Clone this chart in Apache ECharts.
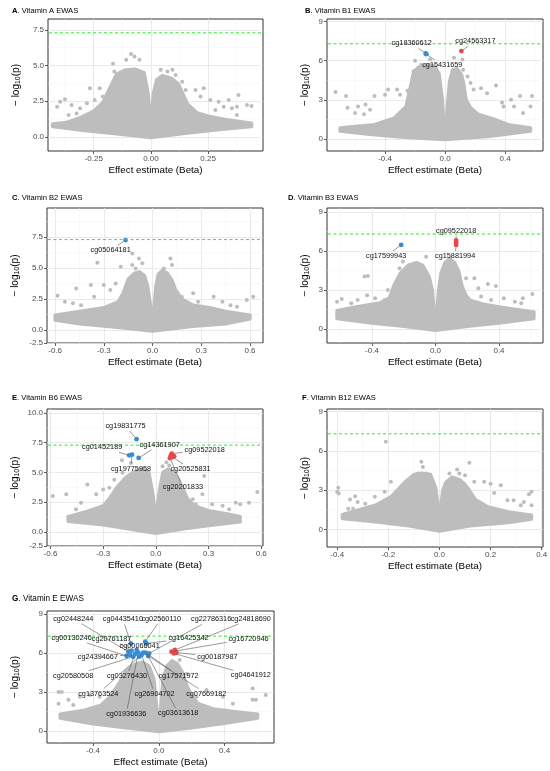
<!DOCTYPE html>
<html>
<head>
<meta charset="utf-8">
<script src="https://cdn.jsdelivr.net/npm/echarts@6.0.0/dist/echarts.min.js"></script>
<style>
  html, body { margin: 0; padding: 0; background: #fff; }
  #main { width: 550px; height: 771px; }
</style>
</head>
<body>
<div id="main"></div>
<script>
// genome-wide threshold, -log10(5e-8)
var THRESH = 7.3;

// ---------- A. Vitamin A ----------
// outline of the dense cloud of CpGs
var aCloud = [[-0.43,0.72],[-0.3,0.45],[-0.15,0.2],[0,-0.05],[0.15,0.25],[0.3,0.5],[0.44,0.72],[0.44,0.95],[0.33,1.2],[0.25,1.45],[0.2,1.7],[0.16,2.3],[0.14,3.0],[0.12,3.7],[0.09,4.1],[0.05,4.3],[0.025,4.0],[0.01,3.0],[0.004,1.4],[0,1.2],[-0.004,1.4],[-0.012,3.0],[-0.03,4.5],[-0.07,4.75],[-0.11,4.7],[-0.15,4.4],[-0.18,3.4],[-0.21,2.4],[-0.25,1.8],[-0.3,1.4],[-0.37,1.0],[-0.43,0.9]];
var aGrey = [[-0.087,5.82],[-0.072,5.63],[-0.108,5.4],[-0.166,5.12],[-0.05,5.4],[-0.16,4.58],[-0.152,4.0],[-0.166,3.29],[-0.224,3.4],[-0.267,3.4],[-0.21,2.82],[-0.41,2.1],[-0.397,2.46],[-0.376,2.63],[-0.347,2.23],[-0.36,1.53],[-0.325,1.64],[-0.28,2.35],[-0.246,2.58],[-0.31,2.0],
  [0.043,4.7],[0.072,4.58],[0.094,4.7],[0.108,4.34],[0.137,3.87],[0.152,3.29],[0.195,3.29],[0.231,3.4],[0.217,2.82],[0.26,2.58],[0.296,2.46],[0.34,2.58],[0.383,2.93],[0.42,2.23],[0.376,2.1],[0.44,2.16],[0.282,1.88],[0.318,2.1],[0.376,1.53],[0.354,2.0]];
var aDown = [];
var aUp = [];
var aXTicks = [-0.25, 0, 0.25], aXLabels = ['-0.25', '0.00', '0.25'];
var aYTicks = [0, 2.5, 5, 7.5], aYLabels = ['0.0', '2.5', '5.0', '7.5'];

// ---------- B. Vitamin B1 ----------
var bCloud = [[-0.7,0.6],[-0.5,0.35],[-0.3,0.15],[0,-0.05],[0.3,0.2],[0.57,0.6],[0.57,0.85],[0.42,1.1],[0.33,1.5],[0.22,1.9],[0.17,2.4],[0.14,3.0],[0.125,4.2],[0.11,4.9],[0.08,5.4],[0.05,5.3],[0.03,4.4],[0.015,2.5],[0.008,1.0],[0,0.8],[-0.007,1.0],[-0.018,3.0],[-0.04,5.0],[-0.07,5.6],[-0.12,5.7],[-0.18,5.5],[-0.21,5.1],[-0.23,4.05],[-0.26,2.5],[-0.34,1.6],[-0.47,1.1],[-0.7,0.85]];
var bGrey = [[-0.73,3.6],[-0.66,3.3],[-0.65,2.4],[-0.6,2.0],[-0.58,2.5],[-0.54,1.9],[-0.53,2.65],[-0.47,3.3],[-0.5,2.25],[-0.38,3.8],[-0.4,3.4],[-0.32,3.8],[-0.3,3.4],[-0.25,3.7],[-0.21,5.2],[-0.2,6.0],[-0.16,5.7],[-0.1,6.1],
  [0.06,6.23],[0.116,6.1],[0.12,5.3],[0.15,4.8],[0.17,4.3],[0.24,3.9],[0.34,4.1],[0.28,3.5],[0.38,2.8],[0.39,2.5],[0.46,2.5],[0.5,3.3],[0.52,2.0],[0.58,3.3],[0.57,2.5],[0.44,3.0],[0.19,3.8]];
var bDown = [[-0.125,6.5,'cg15431659'],[-0.129,6.56,'cg18360612']];
var bUp = [[0.109,6.74,'cg24563317']];
var bXTicks = [-0.4, 0, 0.4], bXLabels = ['-0.4', '0.0', '0.4'];
var bYTicks = [0, 3, 6, 9], bYLabels = ['0', '3', '6', '9'];

// ---------- C. Vitamin B2 ----------
var cCloud = [[-0.6,0.8],[-0.45,0.5],[-0.25,0.25],[0,-0.08],[0.25,0.3],[0.45,0.5],[0.6,0.9],[0.6,1.2],[0.45,1.5],[0.35,1.8],[0.25,2.0],[0.18,2.5],[0.14,3.3],[0.12,4.0],[0.09,4.6],[0.06,4.8],[0.035,4.5],[0.02,3.5],[0.008,1.6],[0,1.2],[-0.008,1.6],[-0.03,3.5],[-0.05,4.4],[-0.08,4.7],[-0.11,4.6],[-0.15,4.1],[-0.18,3.0],[-0.21,2.3],[-0.3,1.8],[-0.45,1.5],[-0.6,1.2]];
var cGrey = [[-0.34,5.43],[-0.125,6.18],[-0.196,5.1],[-0.125,5.24],[-0.084,5.78],[-0.063,5.38],[-0.104,4.97],[0.11,5.78],[0.12,5.24],[0.07,4.97],[-0.47,3.36],[-0.38,3.63],[-0.3,3.63],[-0.26,3.23],[-0.585,2.77],[-0.54,2.28],[-0.49,2.15],[-0.44,2.0],[-0.36,2.69],[-0.227,3.76],
  [0.18,2.69],[0.25,2.96],[0.28,2.28],[0.376,2.69],[0.43,2.28],[0.48,2.0],[0.58,2.42],[0.62,2.69],[0.52,1.88]];
var cDown = [[-0.166,7.26,'cg05064181']];
var cUp = [];
var cXTicks = [-0.6, -0.3, 0, 0.3, 0.6], cXLabels = ['-0.6', '-0.3', '0.0', '0.3', '0.6'];
var cYTicks = [-1.05, 0, 2.5, 5, 7.5], cYLabels = ['-2.5', '0.0', '2.5', '5.0', '7.5'];

// ---------- D. Vitamin B3 ----------
var dCloud = [[-0.62,0.8],[-0.4,0.45],[-0.2,0.2],[0,-0.1],[0.2,0.2],[0.4,0.45],[0.62,0.8],[0.62,1.3],[0.45,1.6],[0.3,1.9],[0.22,2.2],[0.19,2.6],[0.165,3.4],[0.145,4.5],[0.12,5.1],[0.09,5.4],[0.06,5.1],[0.035,4.3],[0.02,3.0],[0.01,1.5],[0,1.2],[-0.01,1.5],[-0.02,3.0],[-0.04,4.0],[-0.08,4.9],[-0.12,5.1],[-0.17,4.9],[-0.22,4.3],[-0.26,3.4],[-0.29,2.4],[-0.35,2.0],[-0.5,1.7],[-0.62,1.4]];
var dGrey = [[-0.447,4.03],[-0.426,4.08],[-0.226,4.67],[-0.059,5.56],[-0.205,5.18],[0.193,3.9],[0.33,3.46],[0.38,3.3],[0.27,3.13],[-0.59,2.3],[-0.62,2.1],[-0.53,1.97],[-0.49,2.23],[-0.43,2.6],[-0.38,2.36],[-0.32,2.23],[-0.3,3.0],
  [0.287,2.49],[0.35,2.23],[0.43,2.36],[0.5,2.1],[0.55,2.36],[0.61,2.69],[0.54,1.97],[0.245,3.9]];
var dDown = [[-0.216,6.46,'cg17599943']];
var dUp = [[0.13,6.62,''],[0.13,6.8,'cg09522018'],[0.13,6.46,'cg15881994']];
var dXTicks = [-0.4, 0, 0.4], dXLabels = ['-0.4', '0.0', '0.4'];
var dYTicks = [0, 3, 6, 9], dYLabels = ['0', '3', '6', '9'];

// ---------- E. Vitamin B6 ----------
var eCloud = [[-0.5,0.9],[-0.3,0.6],[-0.15,0.25],[0,-0.1],[0.15,0.25],[0.3,0.55],[0.48,0.85],[0.48,1.3],[0.4,1.55],[0.3,1.8],[0.22,2.2],[0.18,2.8],[0.155,3.6],[0.13,4.4],[0.1,5.0],[0.07,5.3],[0.04,5.0],[0.02,3.5],[0.005,1.7],[0,1.5],[-0.005,1.7],[-0.015,3.0],[-0.04,5.0],[-0.08,5.3],[-0.12,5.1],[-0.17,4.6],[-0.22,3.8],[-0.26,2.9],[-0.3,2.2],[-0.4,1.7],[-0.5,1.3]];
var eGrey = [[-0.587,3.03],[-0.51,3.17],[-0.39,4.0],[-0.34,3.17],[-0.3,3.58],[-0.265,3.72],[-0.455,1.92],[-0.426,2.47],[-0.4,1.64],[-0.19,4.97],[-0.237,4.4],[0.275,4.7],[0.265,3.17],[0.32,2.33],[0.38,2.2],[0.417,1.92],[0.455,2.47],[0.48,2.33],[0.53,2.47],[0.578,3.36],[0.21,2.75],[0.227,2.33],
  [-0.193,6.03],[-0.142,5.8],[0.06,5.86],[0.076,5.58],[0.038,5.53]];
var eDown = [[-0.11,7.8,'cg19831775'],[-0.152,6.44,'cg01452189'],[-0.136,6.5,'cg19775958'],[-0.098,6.22,'cg14361907']];
var eUp = [[0.09,6.58,'cg09522018'],[0.085,6.42,''],[0.104,6.36,''],[0.095,6.3,'cg20525831'],[0.08,6.2,'cg20201833']];
var eXTicks = [-0.6, -0.3, 0, 0.3, 0.6], eXLabels = ['-0.6', '-0.3', '0.0', '0.3', '0.6'];
var eYTicks = [-1.17, 0, 2.5, 5, 7.5, 10], eYLabels = ['-2.5', '0.0', '2.5', '5.0', '7.5', '10.0'];

// ---------- F. Vitamin B12 ----------
var fCloud = [[-0.38,0.85],[-0.25,0.6],[-0.12,0.3],[0,-0.1],[0.12,0.3],[0.27,0.55],[0.36,0.8],[0.36,1.1],[0.27,1.35],[0.19,1.73],[0.14,2.3],[0.11,3.2],[0.08,3.8],[0.05,4.0],[0.025,3.6],[0.013,3.0],[0.004,1.6],[0,1.45],[-0.004,1.6],[-0.015,3.2],[-0.035,4.2],[-0.07,4.3],[-0.1,4.2],[-0.136,3.6],[-0.19,2.5],[-0.25,1.86],[-0.32,1.48],[-0.38,1.15]];
var fGrey = [[-0.21,6.69],[-0.4,2.88],[-0.396,3.2],[-0.394,2.75],[-0.35,2.29],[-0.33,2.54],[-0.32,2.11],[-0.357,1.6],[-0.338,1.6],[-0.29,1.98],[-0.253,2.5],[-0.214,2.88],[-0.19,3.64],[-0.208,2.11],[-0.071,5.17],[-0.065,4.78],[-0.084,4.27],[-0.052,4.27],
  [0.039,4.27],[0.069,4.58],[0.078,4.27],[0.1,4.15],[0.117,5.09],[0.136,3.64],[0.175,3.64],[0.2,3.5],[0.214,2.8],[0.24,3.38],[0.266,2.24],[0.29,2.24],[0.33,2.11],[0.35,2.7],[0.36,2.88],[0.36,1.86],[0.29,0.84],[0.318,1.86],[0.097,3.5],[0.104,2.75]];
var fDown = [];
var fUp = [];
var fXTicks = [-0.4, -0.2, 0, 0.2, 0.4], fXLabels = ['-0.4', '-0.2', '0.0', '0.2', '0.4'];
var fYTicks = [0, 3, 6, 9], fYLabels = ['0', '3', '6', '9'];

// ---------- G. Vitamin E ----------
var gCloud = [[-0.6,1.0],[-0.4,0.55],[-0.2,0.25],[0,-0.05],[0.2,0.25],[0.4,0.6],[0.6,1.0],[0.6,1.3],[0.45,1.5],[0.33,1.7],[0.24,2.1],[0.2,2.7],[0.17,3.5],[0.14,4.6],[0.11,5.2],[0.08,5.4],[0.05,5.0],[0.025,4.0],[0.01,1.5],[0,1.2],[-0.01,1.5],[-0.03,4.0],[-0.06,5.0],[-0.1,5.3],[-0.15,5.1],[-0.2,4.6],[-0.25,3.5],[-0.3,2.6],[-0.35,2.0],[-0.45,1.6],[-0.6,1.3]];
var gGrey = [[-0.61,3.0],[-0.59,3.0],[-0.61,2.1],[-0.55,2.4],[-0.48,2.64],[-0.52,2.0],[-0.42,2.77],[-0.36,2.64],[0.57,3.28],[0.57,2.4],[0.59,2.4],[0.65,2.77],[0.45,2.1],[0.39,2.64],[0.29,3.15],[0.23,2.64],[0.127,5.46],[0.17,4.4]];
var gDown = [[-0.17,6.74,'cg04435410'],[-0.083,6.87,'cg02560110'],[-0.075,6.74,'cg16425342'],[-0.186,6.1,'cg02448244'],[-0.166,6.18,'cg20761187'],[-0.145,5.92,'cg03276430'],[-0.125,6.03,'cg01936636'],[-0.105,5.85,'cg26904702'],[-0.081,6.03,'cg17571972'],[-0.176,5.85,'cg24394667'],[-0.156,5.72,'cg20580508'],[-0.065,5.77,'cg03613618'],[-0.119,5.72,'cg13763524'],[-0.095,6.03,'cg07669182'],[-0.135,6.23,'cg00066041'],[-0.059,5.97,'cg22786316'],[-0.196,5.77,'cg00130246']];
var gUp = [[0.077,6.1,'cg16720946'],[0.097,6.23,'cg24818690'],[0.107,6.03,'cg00187987'],[0.091,5.97,'cg04641912']];
var gXTicks = [-0.4, 0, 0.4], gXLabels = ['-0.4', '0.0', '0.4'];
var gYTicks = [0, 3, 6, 9], gYLabels = ['0', '3', '6', '9'];

// label placement (pixel offset from the point, like ggrepel put them)
var labelOffset = {
  'B:cg18360612': [-14, -10], 'B:cg15431659': [16, 11], 'B:cg24563317': [14, -10],
  'C:cg05064181': [-15, 10],
  'D:cg17599943': [-15, 11], 'D:cg09522018': [0, -10], 'D:cg15881994': [-1, 11],
  'E:cg19831775': [-11, -13], 'E:cg01452189': [-27, -8], 'E:cg14361907': [21, -13], 'E:cg19775958': [-1, 14],
  'E:cg09522018': [33, -4], 'E:cg20525831': [18, 12], 'E:cg20201833': [13, 29],
  'G:cg02448244': [-55, -33], 'G:cg04435410': [-8, -24], 'G:cg02560110': [16, -23], 'G:cg22786316': [62, -34],
  'G:cg24818690': [76, -31], 'G:cg00130246': [-55, -18], 'G:cg20761187': [-20, -12], 'G:cg16425342': [42, -5],
  'G:cg16720946': [77, -13], 'G:cg00066041': [3, -4], 'G:cg24394667': [-32, 2], 'G:cg00187987': [41, 4],
  'G:cg20580508': [-60, 19], 'G:cg03276430': [-8, 22], 'G:cg17571972': [33, 23], 'G:cg04641912': [77, 22],
  'G:cg13763524': [-41, 37], 'G:cg26904702': [13, 39], 'G:cg07669182': [63, 41], 'G:cg01936636': [-12, 61],
  'G:cg03613618': [30, 57]
};

var FONT = '"Liberation Sans", Arial, Helvetica, sans-serif';
var GREY = '#bdbdbd', BLUE = '#3a8ccf', RED = '#e8484a', GREEN = '#22f022';

var panels = [
  { key: 'A', name: 'Vitamin A EWAS', grid: [48, 19, 215, 132], title: [7, 2], x: [-0.45, 0.49], y: [-1.0, 8.27],
    cloud: aCloud, grey: aGrey, down: aDown, up: aUp, xt: aXTicks, xl: aXLabels, yt: aYTicks, yl: aYLabels, gap: 26 },
  { key: 'B', name: 'Vitamin B1 EWAS', grid: [327, 19, 216, 132], title: [300, 2], x: [-0.787, 0.653], y: [-0.92, 9.2],
    cloud: bCloud, grey: bGrey, down: bDown, up: bUp, xt: bXTicks, xl: bXLabels, yt: bYTicks, yl: bYLabels, gap: 16 },
  { key: 'C', name: 'Vitamin B2 EWAS', grid: [47, 208, 216, 135], title: [7, 189], x: [-0.65, 0.68], y: [-1.05, 9.85],
    cloud: cCloud, grey: cGrey, down: cDown, up: cUp, xt: cXTicks, xl: cXLabels, yt: cYTicks, yl: cYLabels, gap: 26 },
  { key: 'D', name: 'Vitamin B3 EWAS', grid: [327, 208, 216, 135], title: [283, 189], x: [-0.683, 0.677], y: [-1.08, 9.3],
    cloud: dCloud, grey: dGrey, down: dDown, up: dUp, xt: dXTicks, xl: dXLabels, yt: dYTicks, yl: dYLabels, gap: 16 },
  { key: 'E', name: 'Vitamin B6 EWAS', grid: [47, 409, 216, 137], title: [7, 389], x: [-0.62, 0.61], y: [-1.17, 10.33],
    cloud: eCloud, grey: eGrey, down: eDown, up: eUp, xt: eXTicks, xl: eXLabels, yt: eYTicks, yl: eYLabels, gap: 26 },
  { key: 'F', name: 'Vitamin B12 EWAS', grid: [327, 409, 216, 138], title: [297, 389], x: [-0.44, 0.405], y: [-1.32, 9.19],
    cloud: fCloud, grey: fGrey, down: fDown, up: fUp, xt: fXTicks, xl: fXLabels, yt: fYTicks, yl: fYLabels, gap: 16 },
  { key: 'G', name: 'Vitamin E EWAS', grid: [47, 611, 227, 132], title: [7, 590], x: [-0.68, 0.7], y: [-0.92, 9.23],
    cloud: gCloud, grey: gGrey, down: gDown, up: gUp, xt: gXTicks, xl: gXLabels, yt: gYTicks, yl: gYLabels, gap: 26, big: true }
];

// light grid lines half way between the labelled ones
function minorOf(ticks, lo, hi) {
  var step = ticks[ticks.length - 1] - ticks[ticks.length - 2];
  var out = [];
  for (var k = Math.floor(lo / step) - 1; k <= Math.ceil(hi / step); k++) {
    var v = (k + 0.5) * step;
    if (v > lo && v < hi) out.push(+v.toFixed(6));
  }
  return out;
}

function labelFor(ticks, labels) {
  return function (v) {
    for (var i = 0; i < ticks.length; i++) if (Math.abs(ticks[i] - v) < 1e-6) return labels[i];
    return '';
  };
}

var option = { animation: false, backgroundColor: '#fff', title: [], grid: [], xAxis: [], yAxis: [], series: [] };

panels.forEach(function (p, i) {
  option.title.push({
    text: '{b|' + p.key + '}. ' + p.name, left: p.title[0], top: p.title[1],
    textStyle: { fontFamily: FONT, fontSize: p.big ? 8.2 : 7.6, fontWeight: 'normal', color: '#000',
      rich: { b: { fontFamily: FONT, fontSize: p.big ? 8.2 : 7.6, fontWeight: 'bold', color: '#000' } } }
  });
  option.grid.push({ left: p.grid[0], top: p.grid[1], width: p.grid[2], height: p.grid[3],
    show: true, borderColor: '#333', borderWidth: 1, outerBoundsMode: 'none' });

  option.xAxis.push({
    type: 'value', gridIndex: i, min: p.x[0], max: p.x[1],
    name: 'Effect estimate (Beta)', nameLocation: 'middle', nameGap: 14,
    nameTextStyle: { fontFamily: FONT, fontSize: 9.8, color: '#000' },
    axisLine: { show: false, onZero: false },
    axisTick: { show: true, length: 3, customValues: p.xt, lineStyle: { color: '#333', width: 0.8 } },
    axisLabel: { show: true, customValues: p.xt, formatter: labelFor(p.xt, p.xl), margin: 4,
      fontFamily: FONT, fontSize: 8, color: '#4d4d4d' },
    splitLine: { show: true, lineStyle: { color: '#e5e5e5', width: 0.8 } }
  });
  option.yAxis.push({
    type: 'value', gridIndex: i, min: p.y[0], max: p.y[1],
    name: '\u2212 log{s|10}(p)', nameLocation: 'middle', nameGap: p.gap, nameRotate: 90,
    nameTextStyle: { fontFamily: FONT, fontSize: 10, color: '#000',
      rich: { s: { fontFamily: FONT, fontSize: 7, color: '#000', padding: [4, 0, 0, 0] } } },
    axisLine: { show: false, onZero: false },
    axisTick: { show: true, length: 3, customValues: p.yt, lineStyle: { color: '#333', width: 0.8 } },
    axisLabel: { show: true, customValues: p.yt, formatter: labelFor(p.yt, p.yl), margin: 4,
      fontFamily: FONT, fontSize: 8, color: '#4d4d4d' },
    splitLine: { show: true, lineStyle: { color: '#e5e5e5', width: 0.8 } }
  });

  var xMinor = minorOf(p.xt, p.x[0], p.x[1]);
  var yMinor = minorOf(p.yt.slice(1), p.y[0], p.y[1]);
  var ext = [[p.x[0], p.y[0]], [p.x[1], p.y[1]]];

  // minor grid lines (theme_bw draws them between the major ones)
  option.series.push({
    type: 'custom', xAxisIndex: i, yAxisIndex: i, data: [ext[0]], silent: true, z: 1,
    renderItem: function (params, api) {
      var kids = [];
      xMinor.forEach(function (v) {
        var a = api.coord([v, ext[0][1]]), b = api.coord([v, ext[1][1]]);
        kids.push({ type: 'line', shape: { x1: a[0], y1: a[1], x2: b[0], y2: b[1] }, style: { stroke: '#f2f2f2', lineWidth: 0.5 } });
      });
      yMinor.forEach(function (v) {
        var a = api.coord([ext[0][0], v]), b = api.coord([ext[1][0], v]);
        kids.push({ type: 'line', shape: { x1: a[0], y1: a[1], x2: b[0], y2: b[1] }, style: { stroke: '#f2f2f2', lineWidth: 0.5 } });
      });
      return { type: 'group', children: kids };
    }
  });

  var cloud = p.cloud;
  // the dense mass of points drawn as one filled shape
  option.series.push({
    type: 'custom', xAxisIndex: i, yAxisIndex: i, data: [cloud[0]], silent: true, z: 2,
    renderItem: function (params, api) {
      var pts = cloud.map(function (d) { return api.coord(d); });
      return { type: 'polygon', shape: { points: pts },
        style: { fill: GREY, stroke: GREY, lineWidth: 3.4, lineJoin: 'round' } };
    }
  });
  option.series.push({
    type: 'scatter', xAxisIndex: i, yAxisIndex: i, data: p.grey, symbolSize: 4, silent: true, z: 3,
    itemStyle: { color: GREY, opacity: 1 }
  });
  if (p.down.length) option.series.push({
    type: 'scatter', xAxisIndex: i, yAxisIndex: i, data: p.down, symbolSize: 4.8, silent: true, z: 4,
    itemStyle: { color: BLUE, opacity: 1 }
  });
  if (p.up.length) option.series.push({
    type: 'scatter', xAxisIndex: i, yAxisIndex: i, data: p.up, symbolSize: 4.8, silent: true, z: 4,
    itemStyle: { color: RED, opacity: 1 }
  });

  // significance threshold
  option.series.push({
    type: 'custom', xAxisIndex: i, yAxisIndex: i, data: [[p.x[0], THRESH]], silent: true, z: 6,
    renderItem: function (params, api) {
      var a = api.coord([ext[0][0], THRESH]), b = api.coord([ext[1][0], THRESH]);
      return { type: 'line', shape: { x1: a[0] + 1, y1: a[1], x2: b[0] - 1, y2: b[1] },
        style: { stroke: GREEN, lineWidth: 1, lineDash: [3, 2.5] } };
    }
  });

  var hits = p.down.concat(p.up);
  if (hits.length) {
    var key = p.key;
    option.series.push({
      type: 'custom', xAxisIndex: i, yAxisIndex: i, data: hits, silent: true, z: 8, clip: false,
      renderItem: function (params, api) {
        var d = hits[params.dataIndex];
        var off = labelOffset[key + ':' + d[2]];
        if (!d[2] || !off) return null;
        var pt = api.coord([d[0], d[1]]);
        var cx = pt[0] + off[0], cy = pt[1] + off[1];
        var hw = d[2].length * 2.05 + 1.5, hh = 5;
        var dx = pt[0] - cx, dy = pt[1] - cy;
        var t = Math.min(dx ? hw / Math.abs(dx) : Infinity, dy ? hh / Math.abs(dy) : Infinity);
        var kids = [];
        if (t < 1) {
          var sx = cx + dx * t, sy = cy + dy * t;
          var len = Math.sqrt((pt[0] - sx) * (pt[0] - sx) + (pt[1] - sy) * (pt[1] - sy));
          if (len > 4) {
            var ex = pt[0] - (pt[0] - sx) / len * 2.2, ey = pt[1] - (pt[1] - sy) / len * 2.2;
            kids.push({ type: 'line', shape: { x1: sx, y1: sy, x2: ex, y2: ey },
              style: { stroke: '#555', lineWidth: 0.6 } });
          }
        }
        kids.push({ type: 'text', x: cx, y: cy,
          style: { text: d[2], fill: '#111', fontSize: 7.3, fontFamily: FONT, align: 'center', verticalAlign: 'middle' } });
        return { type: 'group', children: kids };
      }
    });
  }
});

var chart = echarts.init(document.getElementById('main'), null, { renderer: 'canvas' });
chart.setOption(option);
</script>
</body>
</html>
